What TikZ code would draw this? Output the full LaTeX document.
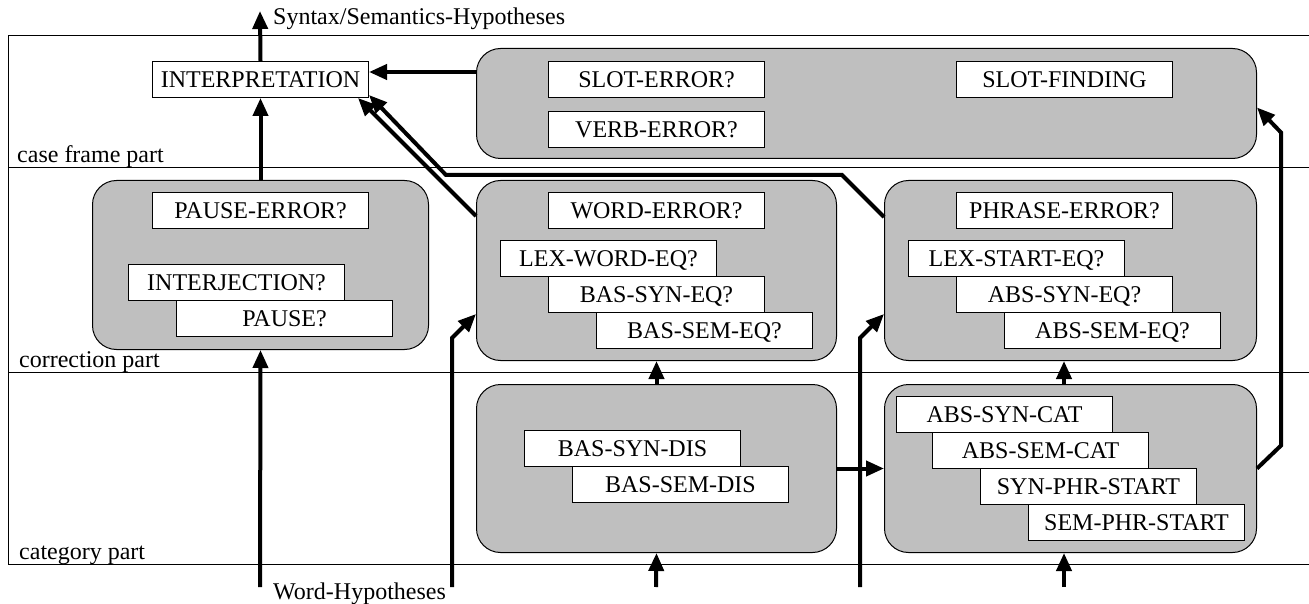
\documentclass[tikz,border=0pt]{standalone}
\usepackage{fontspec}
\setmainfont{Liberation Serif}
\usetikzlibrary{arrows.meta,calc}
\begin{document}
\begin{tikzpicture}[x=1pt,y=-1pt,
  font=\fontsize{24}{28}\selectfont,
  wbox/.style={draw=black,line width=1pt,fill=white,minimum width=216pt,minimum height=36pt,inner sep=0pt,anchor=north west,text height=15.8pt,text depth=0pt},
  gbox/.style={draw=black,line width=1pt,fill=black!25,rounded corners=24pt,inner sep=0pt,anchor=north west},
  arr/.style={line width=4pt,-{Triangle[length=18pt,width=15pt]}},
  frameline/.style={line width=1pt},
  lbl/.style={anchor=base west,inner sep=0pt}]
\useasboundingbox (0,0) rectangle (1309,604);

% frame and separators
\draw[frameline] (1309,36) -- (8,36) -- (8,564) -- (1309,564);
\draw[frameline] (8,168) -- (1309,168);
\draw[frameline] (8,372) -- (1309,372);

% gray group boxes
\node[gbox,minimum width=780pt,minimum height=110pt] (cf) at (476,48) {};
\node[gbox,minimum width=336pt,minimum height=169pt] (pb) at (92,180) {};
\node[gbox,minimum width=360pt,minimum height=180pt] (wb) at (476,180) {};
\node[gbox,minimum width=372pt,minimum height=180pt] (pr) at (884,180) {};
\node[gbox,minimum width=360pt,minimum height=168pt] (wc) at (476,384) {};
\node[gbox,minimum width=372pt,minimum height=168pt] (pc) at (884,384) {};

% white boxes
\node[wbox] (interp) at (152,61) {INTERPRETATION};
\node[wbox] (slerr) at (548,61) {SLOT-ERROR?};
\node[wbox] (verr) at (548,111) {VERB-ERROR?};
\node[wbox] (slfind) at (956,61) {SLOT-FINDING};

\node[wbox] (perr) at (152,192) {PAUSE-ERROR?};
\node[wbox] (interj) at (128,264) {INTERJECTION?};
\node[wbox] (pause) at (176,300) {PAUSE?};

\node[wbox] (werr) at (548,192) {WORD-ERROR?};
\node[wbox] (lexw) at (500,240) {LEX-WORD-EQ?};
\node[wbox] (bsyneq) at (548,276) {BAS-SYN-EQ?};
\node[wbox] (bsemeq) at (596,312) {BAS-SEM-EQ?};

\node[wbox] (pherr) at (956,192) {PHRASE-ERROR?};
\node[wbox] (lexs) at (908,240) {LEX-START-EQ?};
\node[wbox] (asyneq) at (956,276) {ABS-SYN-EQ?};
\node[wbox] (asemeq) at (1004,312) {ABS-SEM-EQ?};

\node[wbox] (bsyndis) at (524,430) {BAS-SYN-DIS};
\node[wbox] (bsemdis) at (572,466) {BAS-SEM-DIS};

\node[wbox] (asyncat) at (896,396) {ABS-SYN-CAT};
\node[wbox] (asemcat) at (932,432) {ABS-SEM-CAT};
\node[wbox] (synphr) at (980,468) {SYN-PHR-START};
\node[wbox] (semphr) at (1028,504) {SEM-PHR-START};

% labels
\node[lbl] (lcf) at (17,163) {case frame part};
\node[lbl] (lco) at (19,367) {correction part};
\node[lbl] (lca) at (19,559) {category part};
\node[lbl] (lout) at (273,25) {Syntax/Semantics-Hypotheses};
\node[lbl] (lin) at (273,599) {Word-Hypotheses};

% connectors
\coordinate (outtip) at (260,11);
\coordinate (in1) at (260,587);
\coordinate (in2) at (452,587);
\coordinate (in3) at (656,587);
\coordinate (in4) at (860,587);
\coordinate (in5) at (1064,587);

\draw[arr] (interp.north) -- (outtip);
\draw[arr] (pb.north) -- (interp.south);
\draw[arr] ($(cf.north west)+(0,24)$) -- ($(interp.north east)+(0,11)$);
\draw[arr] ($(wb.north west)+(0,36)$) -- ($(interp.south east)+(-11,0)$);
\draw[arr] ($(pr.north west)+(0,37)$) -- ++(-42,-42) -- ++(-396,0) -- ($(interp.south east)+(0,-3)$);

\draw[arr] (in1) -- (pb.south);
\draw[arr] (in2) -- ++(0,-249) -- ($(wb.south west)+(0,-47)$);
\draw[arr] (in3) -- (wc.south);
\draw[arr] (in4) -- ++(0,-249) -- ($(pr.south west)+(0,-47)$);
\draw[arr] (in5) -- ($(pc.south west)+(180,0)$);

\draw[arr] (wc.north) -- (wb.south);
\draw[arr] ($(pc.north west)+(180,0)$) -- ($(pr.south west)+(180,0)$);
\draw[arr] (wc.east) -- (pc.west);
\draw[arr] (pc.east) -- ++(24,-23) -- ++(0,-313) -- ($(cf.east)+(0,4)$);
\end{tikzpicture}
\end{document}
